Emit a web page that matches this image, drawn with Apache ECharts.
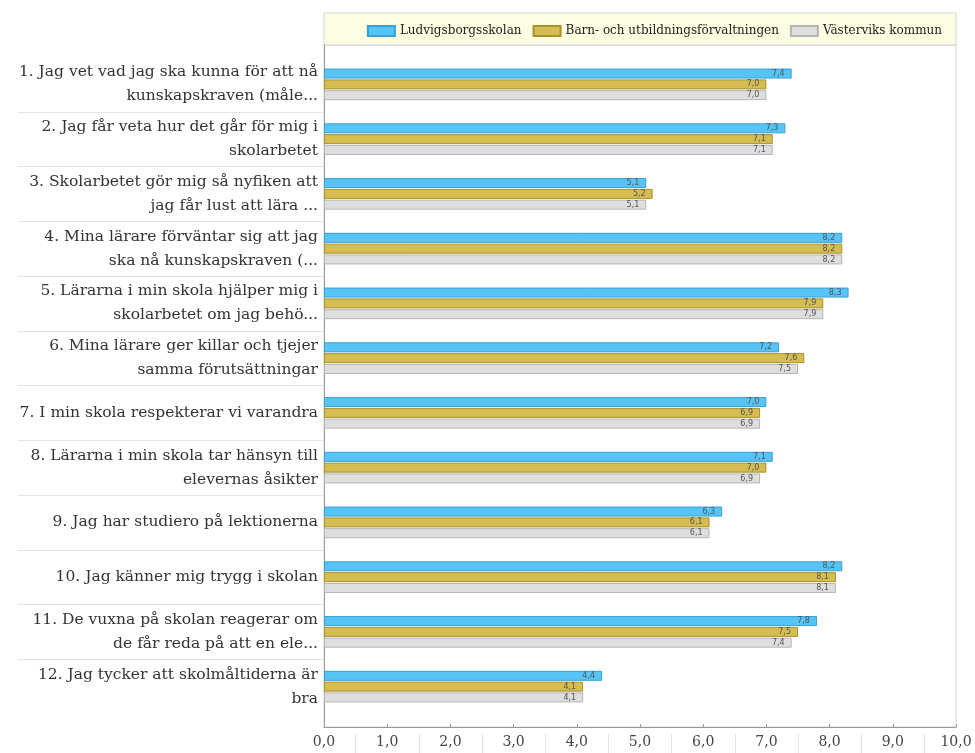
<!DOCTYPE html>
<html>
<head>
<meta charset="utf-8">
<script src="https://cdn.jsdelivr.net/npm/echarts@6/dist/echarts.min.js"></script>
<style>
html,body{margin:0;padding:0;background:#fff;}
#chart{width:975px;height:753px;}
</style>
</head>
<body>
<div id="chart"></div>
<script>
const categories = [
  "1. Jag vet vad jag ska kunna för att nå\nkunskapskraven (måle...",
  "2. Jag får veta hur det går för mig i\nskolarbetet",
  "3. Skolarbetet gör mig så nyfiken att\njag får lust att lära ...",
  "4. Mina lärare förväntar sig att jag\nska nå kunskapskraven (...",
  "5. Lärarna i min skola hjälper mig i\nskolarbetet om jag behö...",
  "6. Mina lärare ger killar och tjejer\nsamma förutsättningar",
  "7. I min skola respekterar vi varandra",
  "8. Lärarna i min skola tar hänsyn till\nelevernas åsikter",
  "9. Jag har studiero på lektionerna",
  "10. Jag känner mig trygg i skolan",
  "11. De vuxna på skolan reagerar om\nde får reda på att en ele...",
  "12. Jag tycker att skolmåltiderna är\nbra"
];
const seriesNames = ["Ludvigsborgsskolan", "Barn- och utbildningsförvaltningen", "Västerviks kommun"];
const ludvigsborg = [7.4, 7.3, 5.1, 8.2, 8.3, 7.2, 7.0, 7.1, 6.3, 8.2, 7.8, 4.4];
const forvaltning = [7.0, 7.1, 5.2, 8.2, 7.9, 7.6, 6.9, 7.0, 6.1, 8.1, 7.5, 4.1];
const kommun      = [7.0, 7.1, 5.1, 8.2, 7.9, 7.5, 6.9, 6.9, 6.1, 8.1, 7.4, 4.1];
const xMin = 0, xMax = 10, xStep = 1;

const FONT = "DejaVu Serif";
const fmt = v => v.toFixed(1).replace('.', ',');
const colors = [
  {fill: '#56c4f6', border: '#3a9fd0'},
  {fill: '#d5bd52', border: '#a8922e'},
  {fill: '#dedede', border: '#b5b5b5'}
];
const allData = [ludvigsborg, forvaltning, kommun];

// Category band geometry (grid 1)
const bandTop = 57, bandBottom = 714;
const band = (bandBottom - bandTop) / categories.length;

const chart = echarts.init(document.getElementById('chart'));
const option = {
  animation: false,
  backgroundColor: '#fff',
  grid: [
    {left: 324, right: 19, top: 45, bottom: 26, show: true, backgroundColor: '#fff', borderColor: '#d4d4d4', borderWidth: 1},
    {left: 324, right: 19, top: bandTop, bottom: 753 - bandBottom},
    {left: 324, right: 19, top: 13, height: 32, show: true, backgroundColor: '#fdfde2', borderColor: '#d4d4d4', borderWidth: 1},
    {left: 324, right: 19, top: 734, height: 19},
    {left: 324, right: 19, top: bandTop + band, bottom: 753 - (bandBottom - band)}
  ],
  legend: {
    data: seriesNames,
    right: 28, top: 20,
    itemWidth: 27, itemHeight: 10, itemGap: 11,
    icon: 'rect',
    textStyle: {fontFamily: FONT, fontSize: 12, color: '#222'}
  },
  xAxis: [
    {gridIndex: 0, type: 'value', min: xMin, max: xMax, interval: xStep,
     axisLine: {show: true, lineStyle: {color: '#999'}},
     axisTick: {show: true, inside: true, length: 3, lineStyle: {color: '#999'}},
     splitLine: {show: false},
     axisLabel: {formatter: v => fmt(v), fontFamily: FONT, fontSize: 14, color: '#444', margin: 8}},
    {gridIndex: 1, type: 'value', min: xMin, max: xMax, interval: xStep, show: false},
    {gridIndex: 2, type: 'value', min: xMin, max: xMax, show: false},
    {gridIndex: 3, type: 'value', min: xMin, max: xMax, interval: xStep,
     axisLine: {show: false}, axisTick: {show: false}, axisLabel: {show: false},
     splitLine: {show: false},
     minorTick: {show: false, splitNumber: 2},
     minorSplitLine: {show: true, lineStyle: {color: '#e2e2e2'}}},
    {gridIndex: 4, type: 'value', min: xMin, max: xMax, show: false}
  ],
  yAxis: [
    {gridIndex: 0, type: 'value', min: 0, max: 1,
     axisLine: {show: true, lineStyle: {color: '#999'}},
     axisTick: {show: false}, axisLabel: {show: false}, splitLine: {show: false}},
    {gridIndex: 1, type: 'category', data: categories, inverse: true,
     axisLine: {show: false},
     axisTick: {show: false},
     axisLabel: {fontFamily: FONT, fontSize: 15.5, color: '#333', lineHeight: 24, margin: 6, align: 'right'},
     splitLine: {show: false}},
    {gridIndex: 2, type: 'value', show: false},
    {gridIndex: 3, type: 'value', show: false},
    {gridIndex: 4, type: 'value', min: 1, max: categories.length - 1, interval: 1, offset: 9,
     axisLine: {show: false}, axisLabel: {show: false}, splitLine: {show: false},
     axisTick: {show: true, length: 306, lineStyle: {color: '#e4e4e4'}}}
  ],
  series: seriesNames.map((name, i) => ({
    name: name,
    type: 'bar',
    xAxisIndex: 1, yAxisIndex: 1,
    data: allData[i],
    barWidth: 10,
    barGap: '8%',
    itemStyle: {color: colors[i].fill, borderColor: colors[i].border, borderWidth: 1},
    label: {show: true, position: 'insideRight', offset: [-2, 0], formatter: p => fmt(p.value),
            fontFamily: 'DejaVu Sans', fontSize: 8, color: '#555'}
  }))
};
chart.setOption(option);
</script>
</body>
</html>
